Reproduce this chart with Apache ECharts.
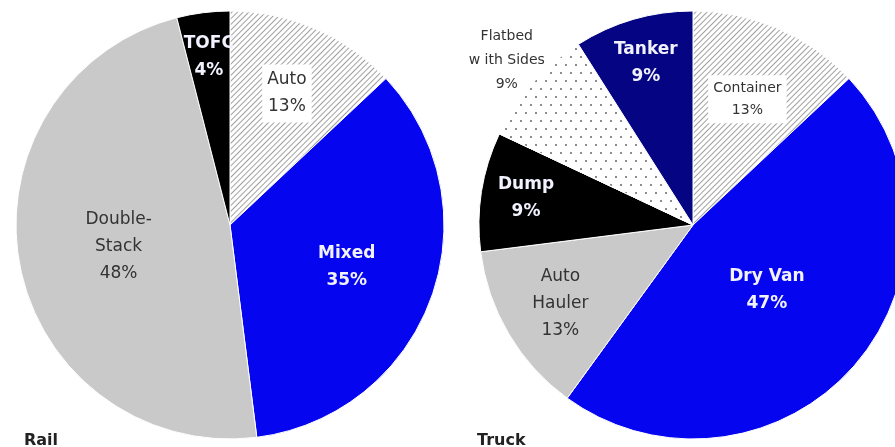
<!DOCTYPE html>
<html>
<head>
<meta charset="utf-8">
<script src="https://cdn.jsdelivr.net/npm/echarts@6/dist/echarts.min.js"></script>
<style>
    html, body { margin: 0; padding: 0; background: #fff; }
    #mychart { width: 895px; height: 447px; }
</style>
</head>
<body>
<div id="mychart"></div>
<script>
"use strict";
// shares in percent, clockwise from 12 o'clock
const railNames = ['Auto', 'Mixed', 'Double-\nStack', 'TOFC'];
const railValues = [13, 35, 48, 4];
const truckNames = ['Container', 'Dry Van', 'Auto\nHauler', 'Dump', 'Flatbed\nw ith Sides', 'Tanker'];
const truckValues = [13, 47, 13, 9, 9, 9];

// how far out each label sits, as a share of the radius
const railLabelRadius = [0.67, 0.58, 0.53, 0.79];
const truckLabelRadius = [0.64, 0.46, 0.72, 0.79, 1.16, 0.79];

const R = 214;
const railCenter = [230, 225];
const truckCenter = [693, 225];

const container = document.getElementById('mychart');
const myChart = echarts.init(container);

const hatch = {
    symbol: 'rect',
    symbolSize: 1,
    dashArrayX: [1, 0],
    dashArrayY: [1, 3],
    rotation: -Math.PI / 4,
    color: '#a0a0a0'
};
const dots = {
    symbol: 'circle',
    symbolSize: 1,
    dashArrayX: [[2, 8], [0, 5, 2, 3]],
    dashArrayY: [2, 6],
    color: '#666'
};

const darkLabel = { color: '#333', fontWeight: 'normal' };
const whiteLabel = { color: '#f2f2ff', fontWeight: 'bold' };
const boxedLabel = { color: '#333', fontWeight: 'normal', backgroundColor: '#fff', padding: [2, 5] };

const railStyles = [
    { itemStyle: { color: '#fff', decal: hatch }, label: boxedLabel },
    { itemStyle: { color: '#0505f0' }, label: whiteLabel },
    { itemStyle: { color: '#c9c9c9' }, label: darkLabel },
    { itemStyle: { color: '#000' }, label: whiteLabel }
];
const truckStyles = [
    { itemStyle: { color: '#fff', decal: hatch }, label: Object.assign({}, boxedLabel, { fontSize: 14, lineHeight: 22 }) },
    { itemStyle: { color: '#0505f0' }, label: whiteLabel },
    { itemStyle: { color: '#c9c9c9' }, label: darkLabel },
    { itemStyle: { color: '#000' }, label: whiteLabel },
    { itemStyle: { color: '#fff', decal: dots }, label: Object.assign({}, darkLabel, { fontSize: 14, lineHeight: 24 }) },
    { itemStyle: { color: '#050583' }, label: whiteLabel }
];

function buildData(names, values, styles) {
    return names.map((name, i) => Object.assign({ name, value: values[i] }, styles[i]));
}

function spreadLabels(center, radii) {
    return function (params) {
        const rect = params.labelRect;
        const lx = rect.x + rect.width / 2;
        const ly = rect.y + rect.height / 2;
        const dx = lx - center[0];
        const dy = ly - center[1];
        const d = Math.sqrt(dx * dx + dy * dy) || 1;
        const k = radii[params.dataIndex] * R / d;
        return { x: center[0] + dx * k, y: center[1] + dy * k };
    };
}

function pieSeries(name, center, names, values, styles, radii) {
    return {
        type: 'pie',
        name,
        center,
        radius: R,
        startAngle: 90,
        clockwise: true,
        avoidLabelOverlap: false,
        silent: true,
        data: buildData(names, values, styles),
        itemStyle: { borderColor: '#fff', borderWidth: 1 },
        label: {
            show: true,
            position: 'inside',
            formatter: '{b}\n{c}%',
            fontFamily: 'DejaVu Sans',
            fontSize: 17,
            lineHeight: 27,
            align: 'center'
        },
        labelLine: { show: false },
        labelLayout: spreadLabels(center, radii)
    };
}

const option = {
    animation: false,
    backgroundColor: '#fff',
    title: [
        {
            text: 'Rail',
            left: 19,
            top: 428,
            textStyle: { fontFamily: 'DejaVu Sans', fontSize: 16, fontWeight: 'bold', color: '#222' }
        },
        {
            text: 'Truck',
            left: 472,
            top: 428,
            textStyle: { fontFamily: 'DejaVu Sans', fontSize: 16, fontWeight: 'bold', color: '#222' }
        }
    ],
    series: [
        pieSeries('Rail', railCenter, railNames, railValues, railStyles, railLabelRadius),
        pieSeries('Truck', truckCenter, truckNames, truckValues, truckStyles, truckLabelRadius)
    ]
};
myChart.setOption(option);
</script>
</body>
</html>
